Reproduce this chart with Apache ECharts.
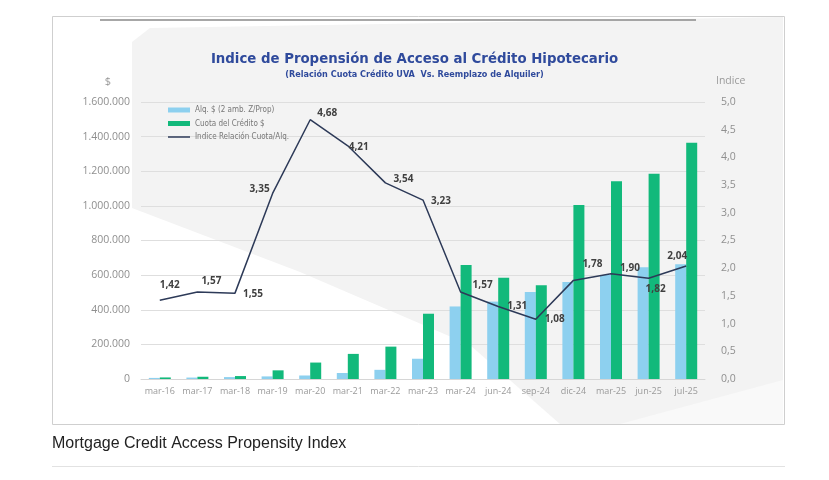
<!DOCTYPE html>
<html>
<head>
<meta charset="utf-8">
<script src="https://cdn.jsdelivr.net/npm/echarts@6/dist/echarts.min.js"></script>
<style>
html,body{margin:0;padding:0;background:#fff;}
#c{width:829px;height:480px;}
</style>
</head>
<body>
<div id="c"></div>
<script>
// ---- data ----
const categories = ['mar-16','mar-17','mar-18','mar-19','mar-20','mar-21','mar-22','mar-23','mar-24','jun-24','sep-24','dic-24','mar-25','jun-25','jul-25'];
const rentValues = [6300, 8300, 11000, 15000, 20300, 34500, 53000, 117000, 419000, 447000, 502000, 561000, 601000, 646000, 663000];
const installmentValues = [9000, 13000, 17000, 50000, 95000, 145000, 187000, 377000, 658000, 585000, 542000, 1005000, 1142000, 1185000, 1364000];
const indexValues = [1.42, 1.57, 1.55, 3.35, 4.68, 4.21, 3.54, 3.23, 1.57, 1.31, 1.08, 1.78, 1.90, 1.82, 2.04];
const seriesNames = ['Alq. $ (2 amb. Z/Prop)', 'Cuota del Crédito $', 'Indice Relación Cuota/Alq.'];

// ---- styling (label offsets per point, px) ----
const labelOffsets = [[10,-15],[14,-11],[18,1],[-13,-4],[17,-7],[11,1],[18,-4],[18,1],[22,-7],[19,0],[19,0],[19,-16],[19,-6],[7,11],[-9,-10]];

const narrow = "'Liberation Sans Narrow', 'DejaVu Sans Condensed', 'Open Sans', sans-serif";
const axisFont = "'Open Sans', 'Liberation Sans', sans-serif";
const fmtThousands = v => String(Math.round(v)).replace(/\B(?=(\d{3})+(?!\d))/g, '.');
const fmtDec = (v, d) => v.toFixed(d).replace('.', ',');

const chart = echarts.init(document.getElementById('c'), null, {renderer: 'canvas'});
chart.setOption({
  animation: false,
  graphic: [
    {type: 'rect', z: -20, shape: {x: 52.5, y: 16.5, width: 732, height: 408}, style: {fill: '#ffffff', stroke: '#cfcfcf', lineWidth: 1}},
    {type: 'polygon', z: -19, shape: {points: [[132,42],[150,28],[500,22],[783,17],[783,424],[132,424]]}, style: {fill: '#f3f3f3'}},
    {type: 'polygon', z: -18, shape: {points: [[132,208],[300,272],[470,345],[560,424],[132,424]]}, style: {fill: '#ffffff'}},
    {type: 'polygon', z: -18, shape: {points: [[620,424],[783,380],[783,424]]}, style: {fill: '#f9f9f9'}},
    {type: 'line', z: -17, shape: {x1: 100, y1: 20, x2: 696, y2: 20}, style: {stroke: '#8a8a8a', lineWidth: 1.5}},
    {type: 'text', left: 52, top: 436, style: {text: 'Mortgage Credit Access Propensity Index', fill: '#222222', font: "16px 'Liberation Sans', Arial, sans-serif"}},
    {type: 'line', shape: {x1: 52, y1: 466.5, x2: 785, y2: 466.5}, style: {stroke: '#e2e2e2', lineWidth: 1}}
  ],
  title: {
    text: 'Indice de Propensión de Acceso al Crédito Hipotecario',
    subtext: '(Relación Cuota Crédito UVA  Vs. Reemplazo de Alquiler)',
    left: 'center',
    top: 47,
    itemGap: 3,
    textStyle: {color: '#2f4a9c', fontSize: 14.8, fontWeight: 'bold', fontFamily: narrow},
    subtextStyle: {color: '#2f4a9c', fontSize: 9, fontWeight: 'bold', fontFamily: narrow}
  },
  legend: {
    orient: 'vertical',
    left: 163,
    top: 101,
    itemWidth: 22,
    itemHeight: 5,
    itemGap: 5.5,
    textStyle: {color: '#777777', fontSize: 8, fontFamily: narrow},
    data: [
      {name: seriesNames[0], icon: 'rect'},
      {name: seriesNames[1], icon: 'rect'},
      {name: seriesNames[2], icon: 'path://M0,0H44V3H0Z'}
    ]
  },
  grid: {left: 141, right: 124, top: 102, bottom: 101, containLabel: false},
  xAxis: {
    type: 'category',
    data: categories,
    axisLine: {lineStyle: {color: '#d6d6d6'}},
    axisTick: {show: false},
    axisLabel: {color: '#9a9a9a', fontSize: 9, margin: 8, fontFamily: axisFont, interval: 0}
  },
  yAxis: [
    {
      type: 'value', min: 0, max: 1600000, interval: 200000,
      name: '$', nameLocation: 'end', nameGap: 15,
      nameTextStyle: {color: '#9a9a9a', fontSize: 11, fontFamily: axisFont, align: 'right', padding: [0, 30, 0, 0]},
      axisLine: {show: false}, axisTick: {show: false},
      axisLabel: {color: '#8f8f8f', fontSize: 10.5, margin: 11, fontFamily: axisFont, formatter: v => fmtThousands(v)},
      splitLine: {lineStyle: {color: '#dedede'}}
    },
    {
      type: 'value', min: 0, max: 5, interval: 0.5,
      name: 'Indice', nameLocation: 'end', nameGap: 15,
      nameTextStyle: {color: '#9a9a9a', fontSize: 10.5, fontFamily: axisFont, align: 'left', padding: [0, 0, 0, 11]},
      axisLine: {show: false}, axisTick: {show: false},
      axisLabel: {color: '#8f8f8f', fontSize: 10.5, margin: 16, fontFamily: axisFont, formatter: v => fmtDec(v, 1)},
      splitLine: {show: false}
    }
  ],
  series: [
    {
      name: seriesNames[0], type: 'bar', yAxisIndex: 0, data: rentValues,
      barWidth: 11, barGap: '0%',
      itemStyle: {color: '#8dd0ef'}
    },
    {
      name: seriesNames[1], type: 'bar', yAxisIndex: 0, data: installmentValues,
      barWidth: 11, barGap: '0%',
      itemStyle: {color: '#12b97b'}
    },
    {
      name: seriesNames[2], type: 'line', yAxisIndex: 1,
      data: indexValues.map((v, i) => ({value: v, label: {offset: labelOffsets[i]}})),
      symbol: 'circle', symbolSize: 0.1, showSymbol: true,
      lineStyle: {color: '#2d3a58', width: 1.5},
      itemStyle: {color: '#2d3a58'},
      z: 5,
      label: {
        show: true, position: 'inside',
        color: '#404040', fontSize: 10, fontWeight: 'bold', fontFamily: axisFont,
        formatter: p => fmtDec(p.value, 2)
      }
    }
  ]
});
</script>
</body>
</html>
